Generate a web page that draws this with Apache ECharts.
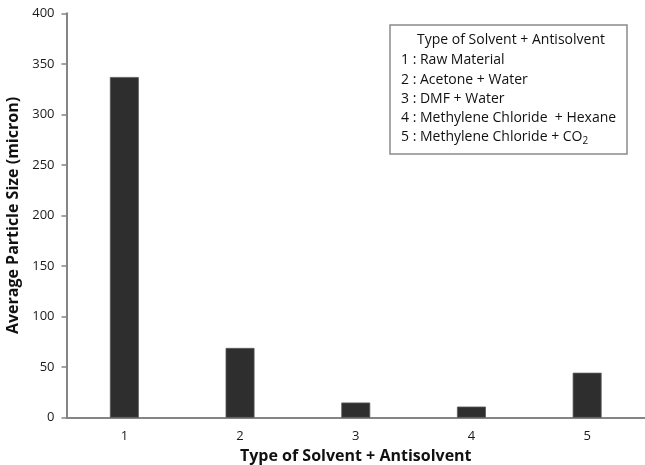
<!DOCTYPE html>
<html>
<head>
<meta charset="utf-8">
<script src="https://cdn.jsdelivr.net/npm/echarts@6/dist/echarts.min.js"></script>
<style>html,body{margin:0;padding:0;background:#fff}#c{width:645px;height:465px}</style>
</head>
<body>
<div id="c"></div>
<script>
const categories = ['1', '2', '3', '4', '5'];
const particleSize = [337, 69, 15, 11, 44.5];
const yTicks = { min: 0, max: 400, interval: 50 };
const legendTitle = 'Type of Solvent + Antisolvent';
const legendLines = [
  '1 : Raw Material',
  '2 : Acetone + Water',
  '3 : DMF + Water',
  '4 : Methylene Chloride  + Hexane',
  '5 : Methylene Chloride + CO{sub|2}'
];
const xTitle = 'Type of Solvent + Antisolvent';
const yTitle = 'Average Particle Size (micron)';

const FONT = 'Open Sans';
const chart = echarts.init(document.getElementById('c'), null, { renderer: 'canvas' });

const legendChildren = [
  { type: 'rect', shape: { x: 390, y: 25, width: 237, height: 129 },
    style: { fill: '#fff', stroke: '#8a8a8a', lineWidth: 1.5 } },
  { type: 'text', x: 511, y: 40,
    style: { text: legendTitle, fontFamily: FONT, fontSize: 14, fill: '#111', align: 'center', verticalAlign: 'middle' } }
];
legendLines.forEach((t, i) => {
  legendChildren.push({
    type: 'text', x: 401, y: 60.5 + i * 19.2,
    style: {
      text: t, fill: '#111', align: 'left', verticalAlign: 'middle',
      fontFamily: FONT, fontSize: 14,
      rich: { sub: { fontFamily: FONT, fontSize: 10, fill: '#111', padding: [8, 0, 0, 0] } }
    }
  });
});

chart.setOption({
  animation: false,
  backgroundColor: '#fff',
  grid: { left: 66.5, right: 0, top: 13.3, bottom: 47.3, containLabel: false, outerBoundsMode: 'none' },
  xAxis: {
    type: 'category',
    data: categories,
    axisLine: { show: true, lineStyle: { color: '#858585', width: 2 } },
    axisTick: { show: false },
    axisLabel: { fontFamily: FONT, fontSize: 13, color: '#1a1a1a', margin: 12 },
    name: xTitle,
    nameLocation: 'middle',
    nameGap: 31,
    nameTextStyle: { fontFamily: FONT, fontSize: 16, fontWeight: 'bold', color: '#111' }
  },
  yAxis: {
    type: 'value',
    min: yTicks.min, max: yTicks.max, interval: yTicks.interval,
    axisLine: { show: true, lineStyle: { color: '#858585', width: 2 } },
    axisTick: { show: true, inside: false, length: 5, lineStyle: { color: '#858585', width: 1.5 } },
    splitLine: { show: false },
    axisLabel: { fontFamily: FONT, fontSize: 13, color: '#1a1a1a', margin: 12 },
    name: yTitle,
    nameLocation: 'middle',
    nameGap: 45,
    nameTextStyle: { fontFamily: FONT, fontSize: 16, fontWeight: 'bold', color: '#111' }
  },
  series: [{
    type: 'bar',
    data: particleSize,
    barWidth: '25%',
    itemStyle: { color: '#2e2e2e', borderColor: '#5a5a5a', borderWidth: 0.8 }
  }],
  graphic: [{ type: 'group', children: legendChildren }]
});
</script>
</body>
</html>
